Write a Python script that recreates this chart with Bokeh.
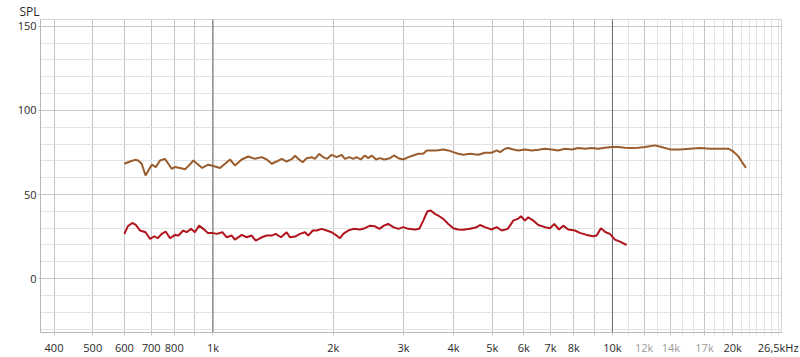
from bokeh.plotting import figure
from bokeh.models import FixedTicker, Span, Range1d, LogAxis
from bokeh.embed import file_html
from bokeh.resources import INLINE

# ---- data ----
brown_freq = [600, 620, 638, 650, 663, 678, 689, 703, 719, 737, 758, 773, 788, 803, 827, 851, 871, 893, 919, 940,
              973, 1002, 1041, 1072, 1103, 1135, 1180, 1226, 1274, 1324, 1363, 1403, 1443, 1486, 1529, 1574, 1605,
              1635, 1677, 1716, 1767, 1800, 1845, 1888, 1932, 1982, 2040, 2100, 2140, 2194, 2245, 2289, 2342, 2401,
              2447, 2496, 2559, 2618, 2684, 2774, 2839, 2910, 2995, 3083, 3173, 3265, 3361, 3427, 3527, 3630, 3771,
              3882, 3995, 4112, 4232, 4398, 4614, 4795, 4984, 5131, 5230, 5383, 5487, 5647, 5812, 6039, 6277, 6522,
              6776, 7043, 7315, 7603, 7903, 8211, 8535, 8868, 9215, 9577, 9954, 10340, 10747, 11170, 11604, 12060,
              12780, 13275, 13930, 14757, 15631, 16558, 17541, 18580, 19496, 20065, 20650, 21060, 21590]
brown_spl = [68.3, 69.6, 70.6, 70.2, 68.3, 61.3, 64.3, 67.7, 66.3, 70.2, 71.2, 68.3, 65.3, 66.3, 65.8, 65.0, 67.3,
             70.2, 67.7, 65.8, 67.7, 66.9, 65.8, 68.3, 70.8, 67.3, 70.8, 72.6, 71.2, 72.2, 70.8, 68.3, 69.6, 71.2,
             69.6, 71.0, 73.0, 71.2, 69.2, 71.6, 72.2, 71.2, 74.2, 72.2, 71.2, 73.6, 72.2, 73.6, 71.2, 72.2, 71.2,
             72.2, 70.8, 73.2, 71.6, 73.2, 70.8, 71.6, 70.8, 71.6, 73.2, 71.6, 70.8, 72.2, 73.2, 74.2, 74.2, 76.2,
             76.2, 76.2, 76.8, 76.2, 75.2, 74.2, 73.6, 74.2, 73.6, 74.8, 74.8, 76.2, 75.2, 77.2, 77.6, 76.8, 76.2,
             76.8, 76.2, 76.6, 77.2, 76.8, 76.2, 77.2, 76.8, 77.6, 77.2, 77.6, 77.2, 77.8, 78.2, 78.2, 77.8, 77.6,
             77.8, 78.2, 79.2, 78.2, 76.8, 76.8, 77.2, 77.6, 77.2, 77.2, 77.2, 75.6, 72.8, 69.6, 65.8]

red_freq = [600, 612, 628, 641, 657, 678, 696, 713, 727, 744, 761, 781, 803, 819, 843, 859, 881, 901, 923, 946, 970,
            996, 1022, 1055, 1082, 1114, 1135, 1180, 1214, 1250, 1279, 1324, 1363, 1403, 1435, 1480, 1529, 1558, 1605,
            1651, 1699, 1732, 1777, 1818, 1871, 1926, 1982, 2040, 2079, 2119, 2181, 2245, 2333, 2401, 2472, 2545,
            2609, 2679, 2747, 2827, 2910, 2995, 3083, 3203, 3284, 3361, 3439, 3507, 3595, 3685, 3771, 3882, 3995,
            4112, 4232, 4398, 4572, 4660, 4795, 4984, 5131, 5283, 5468, 5647, 5792, 5902, 6039, 6155, 6336, 6522,
            6776, 6976, 7151, 7347, 7531, 7751, 8055, 8291, 8617, 8951, 9130, 9358, 9616, 9856, 10146, 10442, 10852]
red_spl = [26.6, 31.1, 33.1, 31.9, 28.6, 27.6, 23.6, 25.2, 24.0, 26.6, 28.0, 24.0, 26.0, 25.6, 28.6, 27.6, 29.6, 27.6,
           31.5, 29.6, 27.2, 27.2, 26.6, 27.6, 24.6, 25.6, 23.2, 26.0, 24.6, 25.6, 22.6, 24.6, 25.6, 25.6, 26.6, 24.6,
           27.6, 24.6, 25.0, 26.6, 27.6, 25.6, 28.6, 28.6, 29.6, 28.6, 27.6, 25.6, 24.0, 26.6, 28.6, 29.6, 29.2, 30.0,
           31.5, 31.1, 29.6, 31.5, 32.5, 30.6, 29.6, 30.6, 29.6, 29.2, 29.6, 34.5, 39.9, 40.5, 38.5, 37.1, 35.5, 32.5,
           30.0, 29.2, 29.0, 29.6, 30.6, 31.9, 30.6, 29.2, 30.6, 28.6, 29.6, 34.5, 35.5, 37.1, 34.5, 36.5, 34.5, 31.9,
           30.6, 30.0, 32.5, 29.2, 31.5, 29.2, 28.6, 27.2, 26.0, 25.2, 25.6, 30.0, 27.6, 26.6, 23.2, 22.0, 20.0]

grid_major = [400, 500, 600, 700, 800, 900, 1000, 2000, 3000, 4000, 5000, 6000, 7000, 8000, 9000, 10000,
              12000, 14000, 17000, 20000]
grid_minor = [11000, 13000, 15000, 16000, 18000, 19000, 21000, 22000, 23000, 24000, 25000, 26000]
dark_ticks = [400, 500, 600, 700, 800, 1000, 2000, 3000, 4000, 5000, 6000, 7000, 8000, 10000, 20000, 26000]
dark_labels = ["400", "500", "600", "700", "800", "1k", "2k", "3k", "4k", "5k", "6k", "7k", "8k",
               "10k", "20k", "26,5kHz"]
grey_ticks = [12000, 14000, 17000]
grey_labels = ["12k", "14k", "17k"]
y_major = [0, 50, 100, 150]
y_minor = [-30, -20, -10, 10, 20, 30, 40, 60, 70, 80, 90, 110, 120, 130, 140]
x_start, x_end = 370, 26500
y_start, y_end = -32, 154

FONT = "Open Sans"

p = figure(width=800, height=357, x_axis_type="log", output_backend="svg", toolbar_location=None,
           x_range=Range1d(x_start, x_end), y_range=Range1d(y_start, y_end),
           min_border_left=40, min_border_right=19, min_border_top=18, min_border_bottom=25)
p.background_fill_color = "white"
p.border_fill_color = "white"
p.outline_line_color = "#d4d4d4"

# title "SPL"
p.title.text = "SPL"
p.title.align = "left"
p.title.offset = -21
p.title.standoff = 0
p.title.text_line_height = 1.0
p.title.text_font = FONT
p.title.text_font_size = "12px"
p.title.text_font_style = "normal"
p.title.text_color = "#2a2a2a"

# x axis (dark labels), ticks at every grid line
xa = p.xaxis[0]
overrides = {t: "" for t in grid_major}
overrides.update(dict(zip(dark_ticks, dark_labels)))
xa.ticker = FixedTicker(ticks=sorted(set(grid_major + dark_ticks)), minor_ticks=grid_minor)
xa.major_label_overrides = overrides
xa.axis_line_color = "#b8b8b8"
xa.major_tick_line_color = "#c4c4c4"
xa.minor_tick_line_color = "#e0e0e0"
xa.major_tick_out = 3
xa.major_tick_in = 0
xa.minor_tick_out = 3
xa.minor_tick_in = 0
xa.major_label_standoff = 4
xa.major_label_text_font = FONT
xa.major_label_text_font_size = "11px"
xa.major_label_text_color = "#2a2a2a"

# second x axis for the grey labels, drawn on the same row
xg = LogAxis(ticker=FixedTicker(ticks=grey_ticks),
             major_label_overrides=dict(zip(grey_ticks, grey_labels)),
             axis_line_color=None, major_tick_line_color=None, minor_tick_line_color=None,
             major_tick_out=0, major_tick_in=0, major_label_standoff=-18,
             major_label_text_font=FONT, major_label_text_font_size="11px",
             major_label_text_color="#9a9a9a")
p.add_layout(xg, "below")

# y axis
p.yaxis.ticker = FixedTicker(ticks=y_major, minor_ticks=y_minor)
p.yaxis.axis_line_color = "#b8b8b8"
p.yaxis.major_tick_line_color = "#b8b8b8"
p.yaxis.major_tick_out = 2
p.yaxis.major_tick_in = 0
p.yaxis.minor_tick_out = 0
p.yaxis.minor_tick_in = 0
p.yaxis.major_label_standoff = 2
p.yaxis.major_label_text_font = FONT
p.yaxis.major_label_text_font_size = "11px"
p.yaxis.major_label_text_color = "#2a2a2a"

# grids (independent of the axis tickers)
p.xgrid.ticker = FixedTicker(ticks=grid_major, minor_ticks=grid_minor)
p.xgrid.grid_line_color = "#c4c4c4"
p.xgrid.minor_grid_line_color = "#e4e4e4"
p.ygrid.grid_line_color = "#c8c8c8"
p.ygrid.minor_grid_line_color = "#e2e2e2"

for loc in (1000, 10000):
    p.add_layout(Span(location=loc, dimension="height", line_color="#6a6a6a", line_width=1, level="underlay"))

# data lines
p.line(brown_freq, brown_spl, line_color="#9a5c2c", line_width=2)
p.line(red_freq, red_spl, line_color="#b0141c", line_width=2)

open("out.html", "w").write(file_html(p, INLINE))
